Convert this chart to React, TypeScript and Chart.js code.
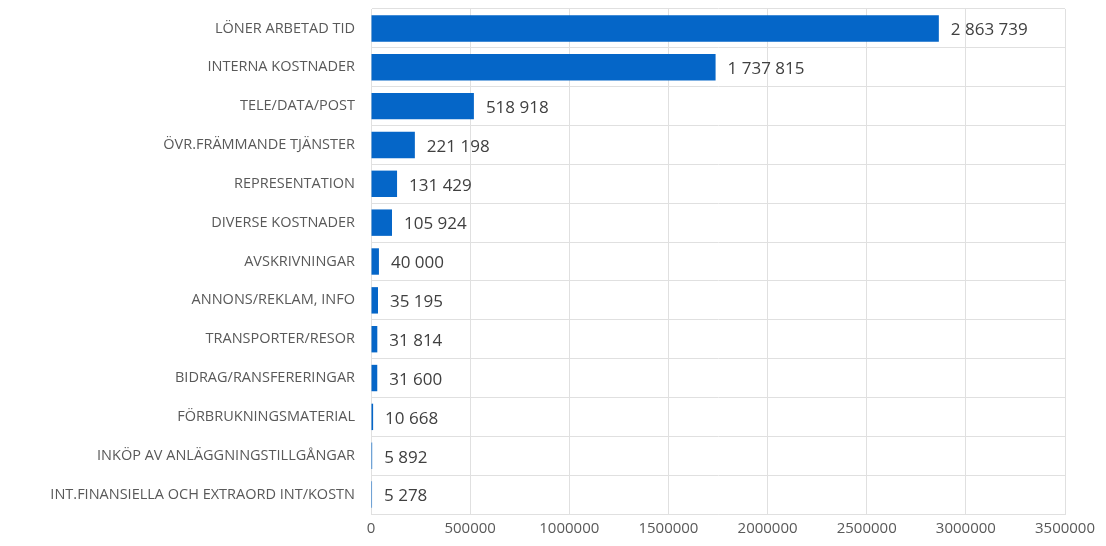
import React, { useEffect, useRef } from "react";
import { Chart, registerables } from "chart.js";

Chart.register(...registerables);

const categories = [
  "LÖNER ARBETAD TID",
  "INTERNA KOSTNADER",
  "TELE/DATA/POST",
  "ÖVR.FRÄMMANDE TJÄNSTER",
  "REPRESENTATION",
  "DIVERSE KOSTNADER",
  "AVSKRIVNINGAR",
  "ANNONS/REKLAM, INFO",
  "TRANSPORTER/RESOR",
  "BIDRAG/RANSFERERINGAR",
  "FÖRBRUKNINGSMATERIAL",
  "INKÖP AV ANLÄGGNINGSTILLGÅNGAR",
  "INT.FINANSIELLA OCH EXTRAORD INT/KOSTN",
];

const values = [2863739, 1737815, 518918, 221198, 131429, 105924, 40000, 35195, 31814, 31600, 10668, 5892, 5278];

const xTicks = [0, 500000, 1000000, 1500000, 2000000, 2500000, 3000000, 3500000];

const FONT = "'Open Sans', sans-serif";
const TEXT = "#595959";
const VALTEXT = "#404040";
const GRID = "#e0e0e0";

const fmt = (v: number) => String(v).replace(/\B(?=(\d{3})+(?!\d))/g, " ");

const labelPlugin = {
  id: "valueLabels",
  afterDatasetsDraw(chart: any) {
    const ctx = chart.ctx;
    const meta = chart.getDatasetMeta(0);
    ctx.save();
    ctx.font = `17px ${FONT}`;
    ctx.fillStyle = VALTEXT;
    ctx.textAlign = "left";
    ctx.textBaseline = "middle";
    meta.data.forEach((bar: any, i: number) => {
      ctx.fillText(fmt(values[i]), bar.x + 12, bar.y + 2);
    });
    ctx.restore();
  },
};

export default function App() {
  const ref = useRef<HTMLCanvasElement>(null);
  useEffect(() => {
    document.body.style.margin = "0";
    const chart = new Chart(ref.current!, {
      type: "bar",
      data: {
        labels: categories,
        datasets: [
          {
            data: values,
            backgroundColor: "#0566C8",
            borderWidth: 0,
            barPercentage: 0.68,
            categoryPercentage: 1,
          },
        ],
      },
      options: {
        indexAxis: "y",
        animation: false,
        responsive: false,
        layout: { padding: { top: 9, left: 0, right: 0, bottom: 2 } },
        plugins: { legend: { display: false }, tooltip: { enabled: false } },
        scales: {
          x: {
            min: 0,
            max: 3500000,
            afterBuildTicks: (s: any) => {
              s.ticks = xTicks.map((v) => ({ value: v }));
            },
            afterFit: (s: any) => {
              s.paddingRight = 41;
            },
            grid: { color: GRID, drawTicks: false, lineWidth: 1 },
            border: { color: GRID },
            ticks: {
              padding: 6,
              color: TEXT,
              font: { family: FONT, size: 15 },
              callback: (v: any) => String(v),
              maxRotation: 0,
            },
          },
          y: {
            grid: { color: GRID, drawTicks: false, offset: true },
            border: { color: GRID },
            afterFit: (s: any) => {
              s.width = 371;
              s.paddingTop = 0;
              s.paddingBottom = 0;
            },
            ticks: {
              padding: 16,
              color: TEXT,
              font: { family: FONT, size: 14.5 },
            },
          },
        },
      },
      plugins: [labelPlugin],
    });
    return () => chart.destroy();
  }, []);
  return <canvas ref={ref} width={1106} height={546} style={{ display: "block" }} />;
}
